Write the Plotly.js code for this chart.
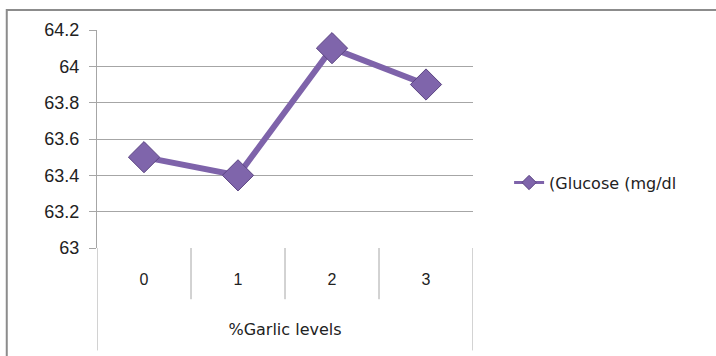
<!DOCTYPE html>
<html><head><meta charset="utf-8">
<script src="https://cdn.plot.ly/plotly-3.0.1.min.js"></script>
<style>html,body{margin:0;padding:0;background:#fff}#chart{width:716px;height:356px}</style>
</head><body><div id="chart"></div>
<script>
const categories = ["0", "1", "2", "3"];
const glucose = [63.5, 63.4, 64.1, 63.9];
const seriesName = "(Glucose (mg/dl";
const xTitle = "%Garlic levels";
const yTicks = [63, 63.2, 63.4, 63.6, 63.8, 64, 64.2];

const purple = "#7e63aa";
const grid = "#a6a6a6";

const trace = {
  x: categories, y: glucose, name: seriesName, type: "scatter", mode: "lines+markers",
  showlegend: false,
  line: {color: purple, width: 6},
  marker: {symbol: "diamond", size: 24, color: "#7f65ab", line: {color: "#5b4482", width: 1}}
};
// legend entry with smaller symbol (no data drawn)
const legendTrace = {
  x: [null], y: [null], name: seriesName, type: "scatter", mode: "lines+markers",
  line: {color: purple, width: 3},
  marker: {symbol: "diamond", size: 11, color: "#7f65ab", line: {color: "#5b4482", width: 1}}
};

const shapes = [];
const n = categories.length;
for (let i = 0; i <= n; i++) {
  const outer = (i === 0 || i === n);
  shapes.push({type: "line", xref: "x", yref: "paper", x0: i - 0.5, x1: i - 0.5,
    y0: 0, y1: outer ? -0.47 : -0.235, line: {color: grid, width: 1}});
}
shapes.push({type: "rect", xref: "paper", yref: "paper",
  x0: -0.240, x1: 1.9, y0: -0.6, y1: 1.092, line: {color: "#8c8c8c", width: 2}, layer: "below"});

Plotly.newPlot("chart", [trace, legendTrace], {
  width: 716, height: 356,
  margin: {l: 97, r: 243, t: 30, b: 108},
  paper_bgcolor: "#fff", plot_bgcolor: "#fff",
  showlegend: true,
  legend: {x: 1.096, y: 0.30, xanchor: "left", yanchor: "middle",
    font: {family: "DejaVu Sans", size: 16, color: "#222"}, bgcolor: "rgba(0,0,0,0)"},
  xaxis: {type: "category", range: [-0.5, n - 0.5], showgrid: false, zeroline: false,
    showline: false, ticks: "", tickfont: {family: "Liberation Sans", size: 16, color: "#222"},
    ticklabelstandoff: 20,
    title: {text: xTitle, font: {family: "DejaVu Sans", size: 16, color: "#222"}, standoff: 36}},
  yaxis: {range: [63, 64.2], tickvals: yTicks, ticktext: yTicks.map(String),
    showgrid: true, gridcolor: grid, gridwidth: 1, zeroline: false,
    showline: true, linecolor: grid, linewidth: 1,
    ticks: "outside", ticklen: 7, tickcolor: grid,
    tickfont: {family: "Liberation Sans", size: 18, color: "#222"}, ticklabelstandoff: 6},
  shapes: shapes
}, {displayModeBar: false, staticPlot: true});
</script></body></html>
